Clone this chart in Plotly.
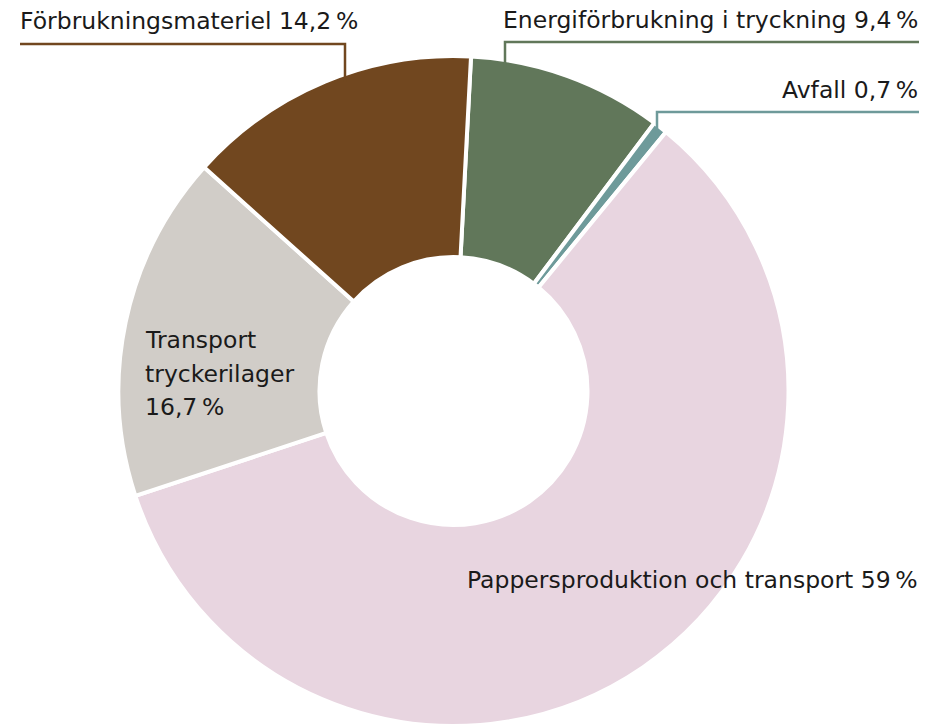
import plotly.graph_objects as go

# Data
categories = ["Energiförbrukning i tryckning", "Avfall", "Pappersproduktion och transport",
              "Transport tryckerilager", "Förbrukningsmateriel"]
shares = [9.4, 0.7, 59.0, 16.7, 14.2]
share_labels = ["9,4\u202f%", "0,7\u202f%", "59\u202f%", "16,7\u202f%", "14,2\u202f%"]
transport_lines = ["Transport", "tryckerilager"]
colors = ["#61775A", "#6E9A9A", "#E8D5E0", "#D1CDC8", "#71471F"]

W, H = 935, 726
FONT = "DejaVu Sans"


def px(x):
    return x / W


def py(y):
    return 1 - y / H


cx, cy, R = 453.5, 391, 335

fig = go.Figure(go.Pie(
    labels=categories,
    values=shares,
    sort=False,
    direction="clockwise",
    rotation=3,
    hole=0.4,
    marker=dict(colors=colors, line=dict(color="white", width=4)),
    textinfo="none",
    showlegend=False,
    domain=dict(x=[px(cx - R), px(cx + R)], y=[py(cy + R), py(cy - R)]),
))

txt = dict(family=FONT, size=23.5, color="#1a1a1a")
annos = [
    dict(text=f"{categories[4]} {share_labels[4]}", x=px(18), y=py(21), xanchor="left"),
    dict(text=f"{categories[0]} {share_labels[0]}", x=px(920), y=py(20), xanchor="right"),
    dict(text=f"{categories[1]} {share_labels[1]}", x=px(920), y=py(90), xanchor="right"),
    dict(text=transport_lines[0], x=px(143), y=py(340), xanchor="left"),
    dict(text=transport_lines[1], x=px(143), y=py(374), xanchor="left"),
    dict(text=share_labels[3], x=px(143), y=py(407), xanchor="left"),
    dict(text=f"{categories[2]} {share_labels[2]}", x=px(920), y=py(580), xanchor="right"),
]
for a in annos:
    fig.add_annotation(xref="paper", yref="paper", showarrow=False, font=txt, yanchor="middle", **a)

# leader lines
leaders = [
    (colors[4], [(20, 44), (345, 44), (345, 82)]),
    (colors[0], [(919, 42), (505, 42), (505, 68)]),
    (colors[1], [(919, 112), (657, 112), (657, 138)]),
]
for col, pts in leaders:
    path = "M " + " L ".join(f"{px(x)},{py(y)}" for x, y in pts)
    fig.add_shape(type="path", xref="paper", yref="paper", path=path,
                  line=dict(color=col, width=2.5), fillcolor="rgba(0,0,0,0)", layer="above")

fig.update_layout(
    width=W, height=H,
    margin=dict(l=0, r=0, t=0, b=0),
    paper_bgcolor="white",
    plot_bgcolor="white",
    font=dict(family=FONT),
)

fig.write_html("out.html", config={"displayModeBar": False},
               post_script="document.body.style.margin='0';document.body.style.padding='0';")
